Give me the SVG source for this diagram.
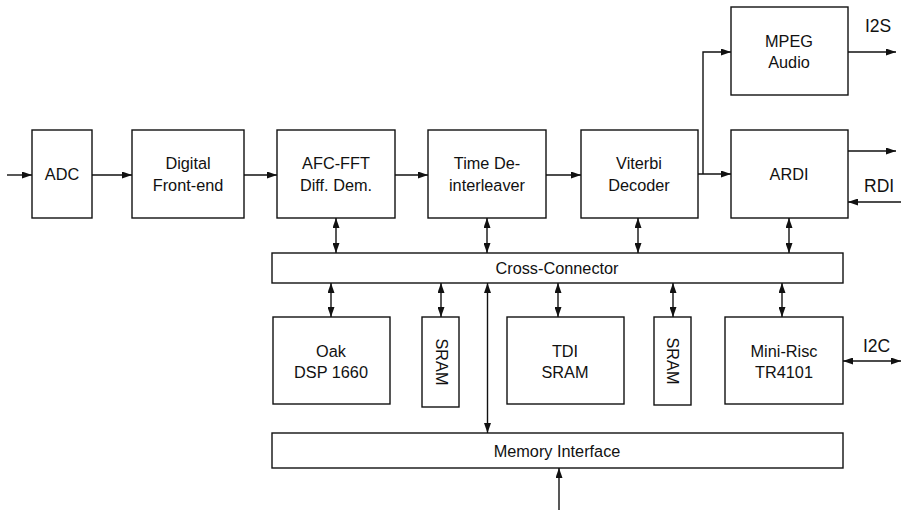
<svg xmlns="http://www.w3.org/2000/svg" width="901" height="510" viewBox="0 0 901 510">
<defs>
<marker id="ah" markerUnits="userSpaceOnUse" markerWidth="10" markerHeight="7" refX="10" refY="3.5" orient="auto-start-reverse">
<path d="M0,0 L10,3.5 L0,7 z" fill="#111"/>
</marker>
<style>
.box{fill:#fff;stroke:#111;stroke-width:1.4}
.t{font-family:"Liberation Sans",Arial,sans-serif;font-size:16.3px;fill:#111;text-anchor:middle}
.l{font-family:"Liberation Sans",Arial,sans-serif;font-size:17.5px;fill:#111}
.c{fill:none;stroke:#111;stroke-width:1.4}
</style>
</defs>
<rect width="901" height="510" fill="#fff"/>
<g id="connectors">
<path class="c" d="M7,175 H32" marker-end="url(#ah)"/>
<path class="c" d="M92,175 H132" marker-end="url(#ah)"/>
<path class="c" d="M244,175 H277" marker-end="url(#ah)"/>
<path class="c" d="M395,175 H428" marker-end="url(#ah)"/>
<path class="c" d="M546,175 H581" marker-end="url(#ah)"/>
<path class="c" d="M698,174 H731" marker-end="url(#ah)"/>
<path class="c" d="M703,174 V52 H731" marker-end="url(#ah)"/>
<path class="c" d="M848,52 H896" marker-end="url(#ah)"/>
<path class="c" d="M848,151 H896" marker-end="url(#ah)"/>
<path class="c" d="M901,202 H848" marker-end="url(#ah)"/>
<path class="c" d="M843,361 H901" marker-start="url(#ah)" marker-end="url(#ah)"/>
<path class="c" d="M336,218 V253" marker-start="url(#ah)" marker-end="url(#ah)"/>
<path class="c" d="M487,218 V253" marker-start="url(#ah)" marker-end="url(#ah)"/>
<path class="c" d="M638,218 V253" marker-start="url(#ah)" marker-end="url(#ah)"/>
<path class="c" d="M789,218 V253" marker-start="url(#ah)" marker-end="url(#ah)"/>
<path class="c" d="M331,283 V317" marker-start="url(#ah)" marker-end="url(#ah)"/>
<path class="c" d="M441,283 V317" marker-start="url(#ah)" marker-end="url(#ah)"/>
<path class="c" d="M558,283 V317" marker-start="url(#ah)" marker-end="url(#ah)"/>
<path class="c" d="M673,283 V317" marker-start="url(#ah)" marker-end="url(#ah)"/>
<path class="c" d="M782,283 V317" marker-start="url(#ah)" marker-end="url(#ah)"/>
<path class="c" d="M487.5,283 V433" marker-start="url(#ah)" marker-end="url(#ah)"/>
<path class="c" d="M559,510 V468" marker-end="url(#ah)"/>
</g>
<g id="adc"><rect class="box" x="32" y="130" width="60" height="88"/><text class="t" x="62" y="180">ADC</text></g>
<g id="dfe"><rect class="box" x="132" y="130" width="112" height="88"/><text class="t" x="188" y="169">Digital</text><text class="t" x="188" y="191">Front-end</text></g>
<g id="afc"><rect class="box" x="277" y="130" width="118" height="88"/><text class="t" x="336" y="169">AFC-FFT</text><text class="t" x="336" y="191">Diff. Dem.</text></g>
<g id="tdi"><rect class="box" x="428" y="130" width="118" height="88"/><text class="t" x="487" y="169">Time De-</text><text class="t" x="487" y="191">interleaver</text></g>
<g id="viterbi"><rect class="box" x="581" y="130" width="117" height="88"/><text class="t" x="639" y="169">Viterbi</text><text class="t" x="639" y="191">Decoder</text></g>
<g id="mpeg"><rect class="box" x="731" y="7" width="117" height="88"/><text class="t" x="789" y="47">MPEG</text><text class="t" x="789" y="68">Audio</text></g>
<g id="ardi"><rect class="box" x="731" y="130" width="117" height="88"/><text class="t" x="789" y="180">ARDI</text></g>
<g id="crossconn"><rect class="box" x="272" y="253" width="571" height="30"/><text class="t" x="557" y="274">Cross-Connector</text></g>
<g id="oak"><rect class="box" x="273" y="317" width="117" height="87"/><text class="t" x="331" y="357">Oak</text><text class="t" x="331" y="378">DSP 1660</text></g>
<g id="sram1"><rect class="box" x="422" y="317" width="37" height="90"/><text class="t" transform="translate(436,362) rotate(90)">SRAM</text></g>
<g id="tdisram"><rect class="box" x="507" y="317" width="117" height="87"/><text class="t" x="565" y="357">TDI</text><text class="t" x="565" y="378">SRAM</text></g>
<g id="sram2"><rect class="box" x="654" y="317" width="37" height="88"/><text class="t" transform="translate(667,361) rotate(90)">SRAM</text></g>
<g id="minirisc"><rect class="box" x="725" y="317" width="118" height="87"/><text class="t" x="784" y="357">Mini-Risc</text><text class="t" x="784" y="378">TR4101</text></g>
<g id="memif"><rect class="box" x="272" y="433" width="571" height="35"/><text class="t" x="557" y="457">Memory Interface</text></g>
<g id="labels">
<text class="l" x="865" y="32">I2S</text>
<text class="l" x="864" y="192">RDI</text>
<text class="l" x="863" y="352">I2C</text>
</g>
</svg>
